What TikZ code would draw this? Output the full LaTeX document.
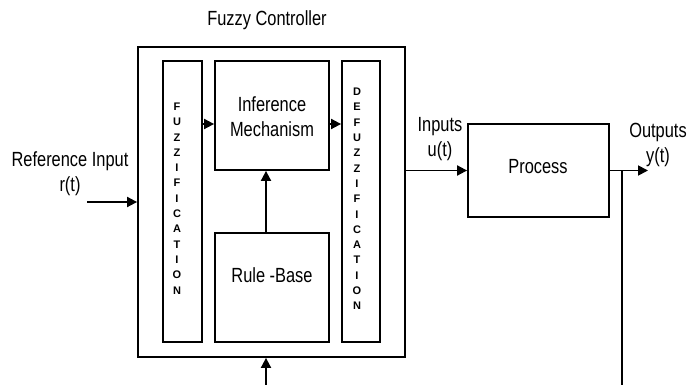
\documentclass[tikz,border=0pt]{standalone}
\usepackage{fontspec}
\setmainfont{Liberation Sans}[FakeStretch=0.8]
\newfontfamily\lettfont{Liberation Sans}
\usetikzlibrary{arrows.meta}
\begin{document}
\begin{tikzpicture}[x=1pt,y=-1pt,
  blk/.style={draw,line width=1.8pt,rectangle,inner sep=0pt},
  arr/.style={line width=1.8pt,-{Triangle[length=10pt,width=10pt]}},
  ln/.style={line width=1.8pt},
  lbl/.style={font=\fontsize{20.5}{25}\selectfont,align=center,inner sep=0pt},
  lett/.style={font=\lettfont\bfseries\fontsize{11}{15.3}\selectfont,align=center,inner sep=0pt}]
\useasboundingbox (0,0) rectangle (689,385);
% boxes
\node[blk,minimum width=267pt,minimum height=310pt] (outer) at (271.5,202) {};
\node[blk,minimum width=39pt,minimum height=281pt] (fuzz) at (182.5,201.5) {};
\node[blk,minimum width=114pt,minimum height=109pt] (inf) at (272,115.5) {};
\node[blk,minimum width=38pt,minimum height=281pt] (defuzz) at (361,201.5) {};
\node[blk,minimum width=114pt,minimum height=109pt] (rule) at (272,287.5) {};
\node[blk,minimum width=141pt,minimum height=93pt] (proc) at (538.5,170.5) {};
% texts
\node[lbl] (title) at (267,20) {Fuzzy Controller};
\node[lbl] (reftxt) at (70,174) {Reference Input\\r(t)};
\node[lbl] (inftxt) at (272,117) {Inference\\Mechanism};
\node[lbl] (ruletxt) at (272,275) {Rule -Base};
\node[lbl] (proctxt) at (538,167) {Process};
\node[lbl] (intxt) at (440,139) {Inputs\\u(t)};
\node[lbl] (outtxt) at (658,145) {Outputs\\y(t)};
\node[lett] (fuzztxt) at (177,198.5) {F\\U\\Z\\Z\\I\\F\\I\\C\\A\\T\\I\\O\\N};
\node[lett] (defuzztxt) at (357,199) {D\\E\\F\\U\\Z\\Z\\I\\F\\I\\C\\A\\T\\I\\O\\N};
% helper coordinates
\coordinate (lvl) at (0,124);
\coordinate (cx) at (266,0);
\coordinate (refstart) at (87,202);
\coordinate (bottomin) at (266,385);
\coordinate (outend) at (648,170.5);
\coordinate (fb) at (622,170.5);
\coordinate (fbend) at (622,385);
% connectors
\draw[arr] (fuzz.east |- lvl) -- (inf.west |- lvl);
\draw[arr] (inf.east |- lvl) -- (defuzz.west |- lvl);
\draw[arr] (rule.north -| cx) -- (inf.south -| cx);
\draw[arr] (bottomin) -- (outer.south -| bottomin);
\draw[arr] (refstart) -- (outer.west |- refstart);
\draw[arr] (outer.east |- proc.west) -- (proc.west);
\draw[arr] (proc.east) -- (outend);
\draw[ln] (fb) -- (fbend);
\end{tikzpicture}
\end{document}
